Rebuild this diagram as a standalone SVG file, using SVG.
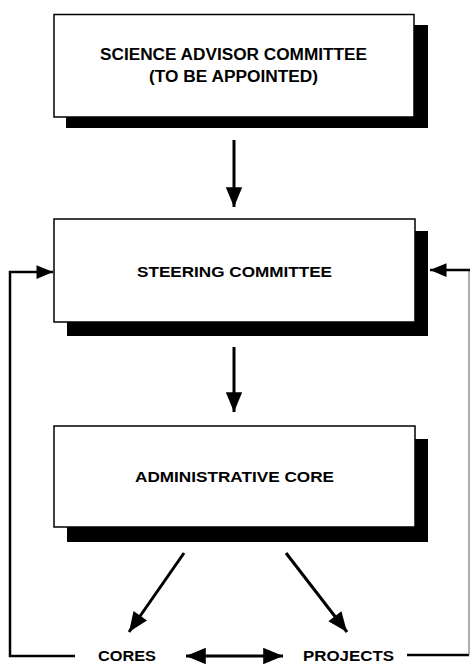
<svg xmlns="http://www.w3.org/2000/svg" width="470" height="664" viewBox="0 0 470 664">
<style>
.box{fill:#fff;stroke:#000;stroke-width:1.5}
.sh{fill:#000}
.t{font-family:"Liberation Sans",Arial,sans-serif;font-weight:bold;fill:#000;text-anchor:middle}
.c{fill:none;stroke:#000;stroke-width:3}
.f{fill:none;stroke:#000;stroke-width:2.5}
.g{fill:none;stroke:#777;stroke-width:1.2}
</style>
<defs>
<marker id="ah" viewBox="0 0 12 10" refX="12" refY="5" markerWidth="7" markerHeight="5.5" markerUnits="strokeWidth" orient="auto-start-reverse">
<path d="M0,0 L12,5 L0,10 z" fill="#000"/>
</marker>
</defs>
<g id="science">
<rect class="sh" x="66" y="25" width="362" height="103"/>
<rect class="box" x="54" y="14.5" width="360" height="102.5"/>
<text class="t" x="233.5" y="60" font-size="16" textLength="267" lengthAdjust="spacingAndGlyphs">SCIENCE ADVISOR COMMITTEE</text>
<text class="t" x="233.5" y="82" font-size="16" textLength="169" lengthAdjust="spacingAndGlyphs">(TO BE APPOINTED)</text>
</g>
<g id="steering">
<rect class="sh" x="67" y="231" width="361" height="105"/>
<rect class="box" x="54" y="219" width="361" height="103"/>
<text class="t" x="234.5" y="277" font-size="15" textLength="195" lengthAdjust="spacingAndGlyphs">STEERING COMMITTEE</text>
</g>
<g id="admin">
<rect class="sh" x="67" y="439" width="361" height="103"/>
<rect class="box" x="54" y="426" width="361" height="101"/>
<text class="t" x="234.5" y="482" font-size="15" textLength="199" lengthAdjust="spacingAndGlyphs">ADMINISTRATIVE CORE</text>
</g>
<g id="cores">
<text class="t" x="127" y="661" font-size="14" textLength="58" lengthAdjust="spacingAndGlyphs">CORES</text>
</g>
<g id="projects">
<text class="t" x="348.5" y="661" font-size="14" textLength="91" lengthAdjust="spacingAndGlyphs">PROJECTS</text>
</g>
<g id="connectors">
<line class="c" x1="234" y1="140" x2="234" y2="207" marker-end="url(#ah)"/>
<line class="c" x1="234" y1="347" x2="234" y2="412" marker-end="url(#ah)"/>
<line class="c" x1="184" y1="553" x2="129" y2="632" marker-end="url(#ah)"/>
<line class="c" x1="286" y1="553" x2="347" y2="632" marker-end="url(#ah)"/>
<line class="c" x1="186" y1="656" x2="283" y2="656" marker-start="url(#ah)" marker-end="url(#ah)"/>
<polyline class="f" points="75,656 10,656 10,272 53,272" marker-end="url(#ah)"/>
<line class="f" x1="407" y1="655" x2="469" y2="655"/>
<line class="g" x1="469" y1="655" x2="469" y2="270"/>
<line class="f" x1="470" y1="270" x2="430" y2="270" marker-end="url(#ah)"/>
</g>
</svg>
